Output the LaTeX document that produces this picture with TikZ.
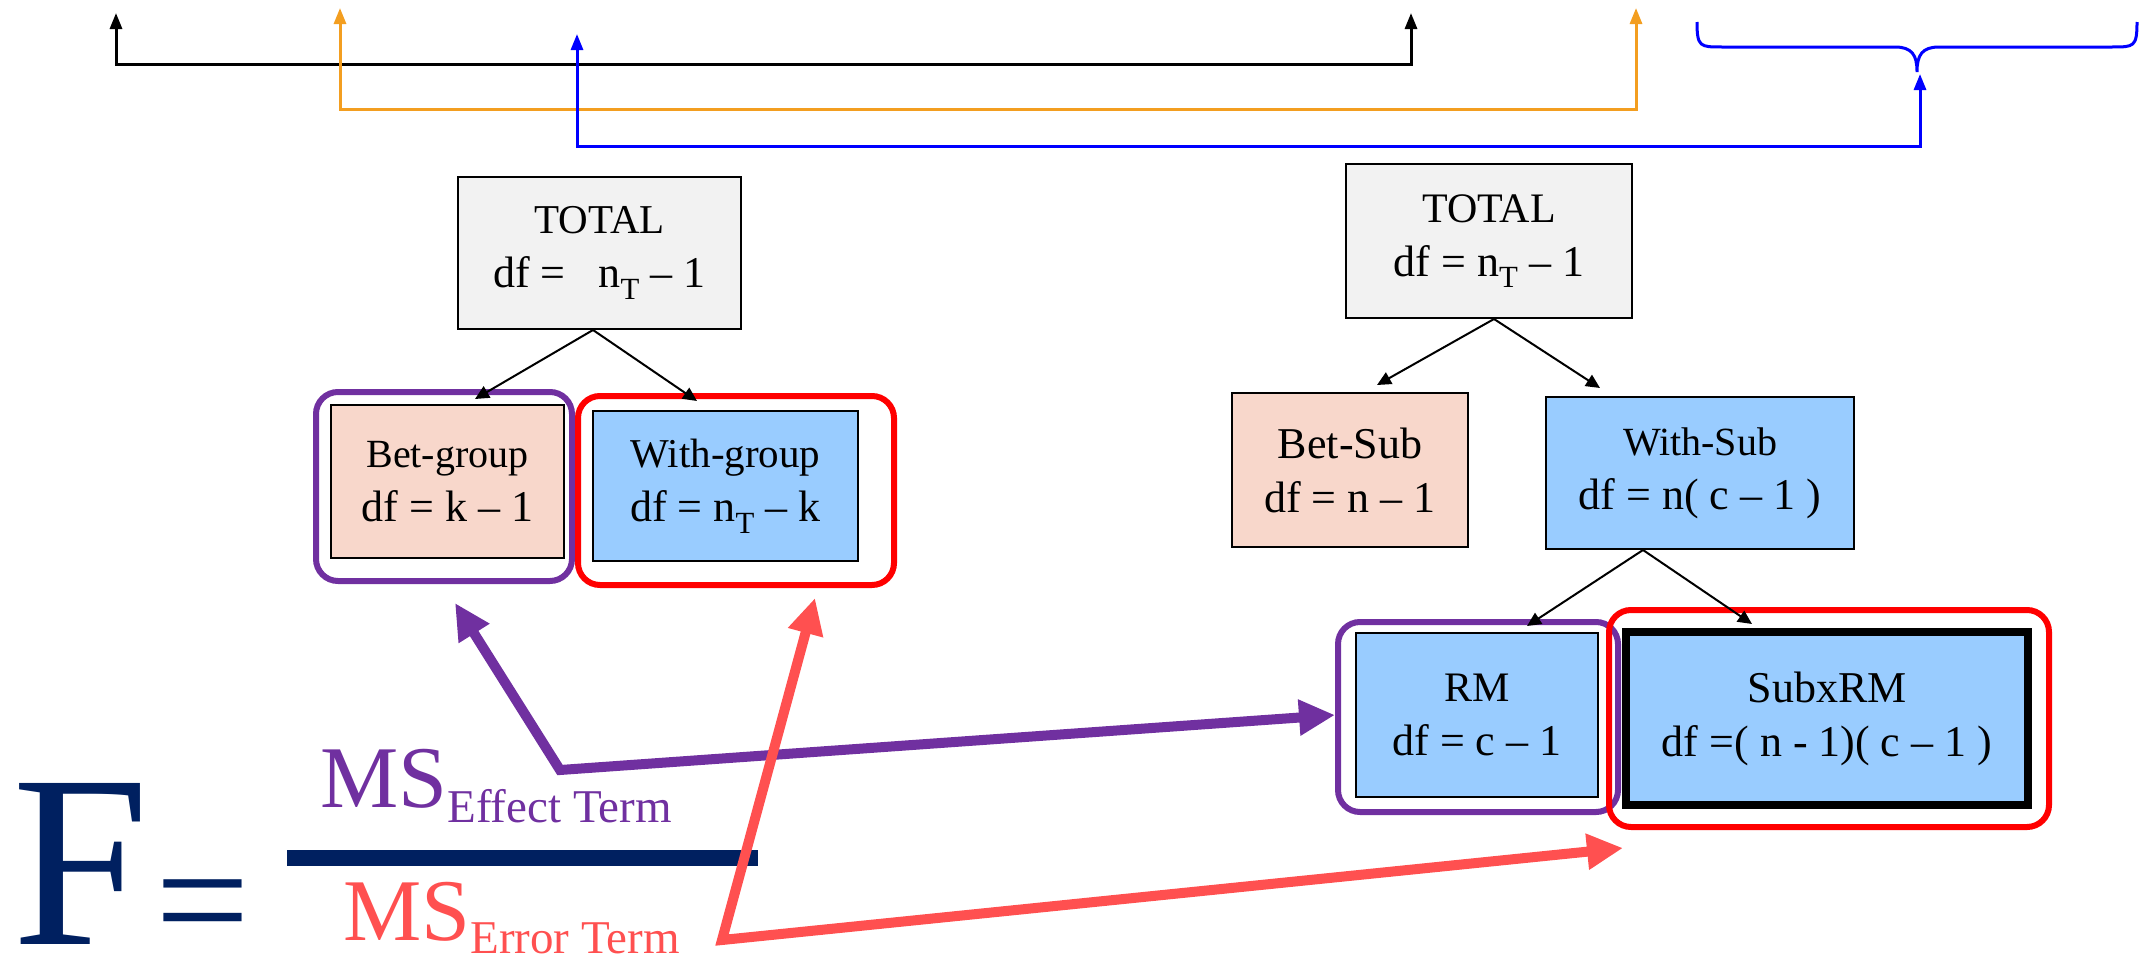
\documentclass[tikz,border=0pt]{standalone}
\usepackage{fontspec}
\setmainfont{Liberation Serif}
\usetikzlibrary{shapes.geometric, arrows.meta}
\definecolor{totalgray}{RGB}{242,242,242}
\definecolor{peach}{RGB}{248,215,203}
\definecolor{skyblue}{RGB}{153,204,255}
\definecolor{effpurple}{RGB}{112,48,160}
\definecolor{errred}{RGB}{255,80,80}
\definecolor{navy}{RGB}{0,32,96}
\definecolor{barorange}{RGB}{243,158,32}
\tikzstyle{dfbox} = [rectangle, draw=black, line width=2pt, align=center, inner sep=0pt, font=\fontsize{44}{54}\selectfont]
\tikzstyle{ring} = [rectangle, rounded corners=22pt, line width=6pt]
\tikzstyle{link} = [line width=2pt, -{Triangle[length=14pt,width=13pt]}]
\tikzstyle{fat} = [line width=10pt, {Triangle[length=36pt,width=34pt]}-{Triangle[length=36pt,width=34pt]}]
\tikzstyle{bar} = [line width=3pt, {Triangle[length=16pt,width=12pt]}-{Triangle[length=16pt,width=12pt]}]

\begin{document}
\begin{tikzpicture}[x=1pt, y=-1pt]
        \useasboundingbox (0,0) rectangle (2146,961);

        % brackets on top
        \draw[bar, black] (116,13) -- ++(0,51) -- ++(1295,0) -- ++(0,-51);
        \draw[bar, barorange] (340,8) -- ++(0,101) -- ++(1296,0) -- ++(0,-101);
        \draw[bar, blue] (577,34) -- ++(0,112) -- ++(1343,0) -- ++(0,-72);
        \draw[blue, line width=3pt] (1697,22) .. controls (1697,47) and (1700,47) .. (1722,47) -- (1895,47)
            .. controls (1912,47) and (1917,55) .. (1917,72) .. controls (1917,55) and (1922,47) .. (1939,47)
            -- (2112,47) .. controls (2134,47) and (2137,47) .. (2137,22);

        % between groups
        \node[dfbox, fill=totalgray, minimum width=283pt, minimum height=152pt] (totL) at (599.5,253) {{\fontsize{41}{54}\selectfont TOTAL}\\df = \ \ n\textsubscript{T} – 1};
        \node[dfbox, fill=peach, minimum width=233pt, minimum height=153pt] (betgrp) at (447.5,481.5) {{\fontsize{40}{54}\selectfont Bet-group}\\df = k – 1};
        \node[dfbox, fill=skyblue, minimum width=265pt, minimum height=150pt] (wthgrp) at (725.5,486) {{\fontsize{41}{54}\selectfont With-group}\\df = n\textsubscript{T} – k};

        % repeated measures
        \node[dfbox, fill=totalgray, minimum width=286pt, minimum height=154pt] (totR) at (1489,241) {{\fontsize{42}{54}\selectfont TOTAL}\\df = n\textsubscript{T} – 1};
        \node[dfbox, fill=peach, minimum width=236pt, minimum height=154pt] (betsub) at (1350,470) {{\fontsize{44}{54}\selectfont Bet-Sub}\\df = n – 1};
        \node[dfbox, fill=skyblue, minimum width=308pt, minimum height=152pt] (wthsub) at (1700,473) {{\fontsize{40}{54}\selectfont With-Sub}\\df = n( c – 1 )};
        \node[dfbox, fill=skyblue, minimum width=242pt, minimum height=164pt] (rm) at (1477,715) {{\fontsize{42}{54}\selectfont RM}\\df = c – 1};
        \node[dfbox, fill=skyblue, line width=8pt, minimum width=402pt, minimum height=173pt] (sbxrm) at (1827,718.5) {{\fontsize{44}{54}\selectfont SubxRM}\\df =( n - 1)( c – 1 )};

        \node (effL) at (betgrp) [ring, draw=effpurple, minimum width=256pt, minimum height=189pt, xshift=-3.5pt, yshift=-5pt] {};
        \node (errL) at (wthgrp) [ring, draw=red, minimum width=316pt, minimum height=189pt, xshift=10.5pt, yshift=-4.5pt] {};
        \node (effR) at (rm) [ring, draw=effpurple, minimum width=280pt, minimum height=190pt, xshift=1pt, yshift=-2pt] {};
        \node (errR) at (sbxrm) [ring, draw=red, minimum width=440pt, minimum height=217pt, xshift=2pt] {};

        \draw[link] ([xshift=-6.5pt]totL.south) -- ([xshift=27.5pt,yshift=5pt]betgrp.north);
        \draw[link] ([xshift=-6.5pt]totL.south) -- ([xshift=-28.5pt,yshift=9pt]wthgrp.north);
        \draw[link] ([xshift=5pt]totR.south) -- ([xshift=27pt,yshift=7pt]betsub.north);
        \draw[link] ([xshift=5pt]totR.south) -- ([xshift=-100pt,yshift=8pt]wthsub.north);
        \draw[link] ([xshift=-57pt]wthsub.south) -- ([xshift=50pt,yshift=6pt]rm.north);
        \draw[link] ([xshift=-57pt]wthsub.south) -- ([xshift=-75pt,yshift=4pt]sbxrm.north);

        % the F ratio
        \node[anchor=base west, inner sep=0pt, text=navy, font=\fontsize{246}{246}\selectfont] (ftxt) at (12,944) {F};
        \node[anchor=base west, inner sep=0pt, text=navy, font=\fontsize{168}{168}\selectfont] (eqtxt) at (155,956) {=};
        \fill[navy] (287,850) rectangle (758,866);
        \node[anchor=base west, inner sep=0pt, text=effpurple, font=\fontsize{88}{88}\selectfont] (mseff) at (320,807) {MS\raisebox{-15pt}{\fontsize{47}{47}\selectfont Effect Term}};
        \node[anchor=base west, inner sep=0pt, text=errred, font=\fontsize{88}{88}\selectfont] (mserr) at (343,940) {MS\raisebox{-13pt}{\fontsize{47}{47}\selectfont Error Term}};

        \coordinate (effup) at (455,603);
        \coordinate (effbend) at (560,770);
        \coordinate (errup) at (815,598);
        \coordinate (errbend) at (722,940);
        \coordinate (errright) at (1623,848);
        \draw[fat, effpurple] (effup) -- (effbend) -- ([yshift=2pt]effR.west);
        \draw[fat, errred] (errup) -- (errbend) -- (errright);
    \end{tikzpicture}
\end{document}
